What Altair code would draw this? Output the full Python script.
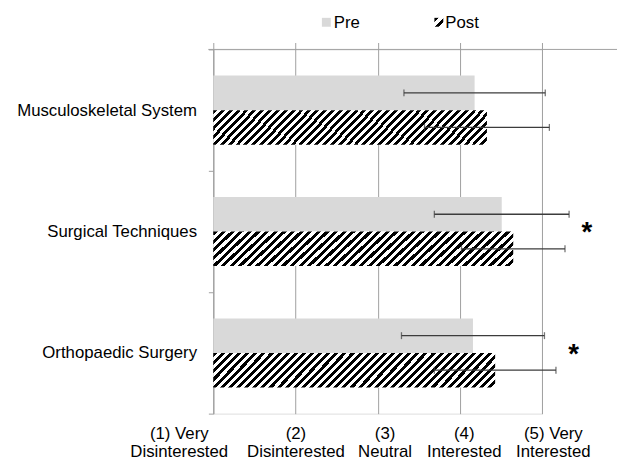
import altair as alt
import pandas as pd

# ---------------- data ----------------
categories = ["Musculoskeletal System", "Surgical Techniques", "Orthopaedic Surgery"]
groups = ["Pre", "Post"]
pre_mean = [4.18, 4.51, 4.16]
pre_sd = [0.86, 0.82, 0.87]
post_mean = [4.33, 4.65, 4.43]
post_sd = [0.76, 0.63, 0.74]
significant = [False, True, True]
tick_values = [1, 2, 3, 4, 5]
tick_line1 = ["(1) Very", "(2)", "(3)", "(4)", "(5) Very"]
tick_line2 = ["Disinterested", "Disinterested", "Neutral", "Interested", "Interested"]

rows = []
for i, c in enumerate(categories):
    rows.append(dict(category=c, group="Pre", mean=pre_mean[i], sd=pre_sd[i]))
    rows.append(dict(category=c, group="Post", mean=post_mean[i], sd=post_sd[i]))
df = pd.DataFrame(rows)
df["lo"] = df["mean"] - df["sd"]
df["hi"] = df["mean"] + df["sd"]

sig = pd.DataFrame({
    "category": categories,
    "sig": significant,
    "x": [max(pre_mean[i] + pre_sd[i], post_mean[i] + post_sd[i]) for i in range(len(categories))],
})
sig = sig[sig["sig"]].copy()

ticks_df = pd.DataFrame({"value": tick_values})
dummy = pd.DataFrame({"a": [0]})

# ---------------- style ----------------
W, H = 333, 369
FONT = "Liberation Sans"
GRID = "#a0a0a0"
ERR = "#3c3c3c"
PRE_COLOR = "#d9d9d9"
label_offsets = [-35, 0, 7, 4, 11]


def hatch(n, x2, y2, frac=0.5):
    stops = []
    for i in range(n):
        a = i / n
        b = (i + frac) / n
        c = (i + 1) / n
        stops += [
            {"offset": a, "color": "black"},
            {"offset": b, "color": "black"},
            {"offset": b, "color": "white"},
            {"offset": c, "color": "white"},
        ]
    return {"gradient": "linear", "x1": 0, "y1": 0, "x2": x2, "y2": y2, "stops": stops}


bar_hatch = hatch(39, 1.105, 0.133)
legend_hatch = hatch(2, 1, 1)

xscale = alt.Scale(domain=[1, 5], nice=False, zero=False)
yscale = alt.Scale(domain=categories, paddingInner=0, paddingOuter=0)
yoff = alt.Scale(domain=groups, paddingInner=0, paddingOuter=0.757)

label_expr = ""
for v, l1, l2 in zip(tick_values, tick_line1, tick_line2):
    label_expr += f"datum.value == {v} ? ['{l1}', '{l2}'] : "
label_expr += "''"

offset_cond = {
    "condition": [{"test": f"datum.value == {v}", "value": o} for v, o in zip(tick_values, label_offsets)],
    "value": 0,
}

top_axis = alt.Axis(orient="top", labels=False, title=None, domain=False, ticks=True,
                    tickSize=7, tickColor=GRID, tickWidth=1, grid=True, gridColor=GRID,
                    gridWidth=1, values=tick_values)
y_axis = alt.Axis(title=None, domain=True, domainColor=GRID, domainWidth=1, ticks=True,
                  tickBand="extent", tickSize=5, tickColor=GRID, labelFont=FONT,
                  labelFontSize=17, labelColor="black", labelPadding=12, labelLimit=300,
                  grid=False)
bottom_axis = alt.Axis(orient="bottom", domain=False, ticks=False, grid=False, title=None,
                       labelExpr=label_expr, labelFont=FONT, labelFontSize=17,
                       labelColor="black", labelLineHeight=18, labelPadding=12,
                       values=tick_values, labelOverlap=False, labelFlush=False,
                       labelBaseline="top", labelAlign="center", labelOffset=offset_cond)

Y = alt.Y("category:N", scale=yscale, sort=categories, axis=y_axis)
YO = alt.YOffset("group:N", scale=yoff, sort=groups)

pre_bars = alt.Chart(df).transform_filter("datum.group == 'Pre'").mark_bar(
    fill=PRE_COLOR
).encode(
    x=alt.X("mean:Q", scale=xscale, axis=top_axis),
    x2=alt.datum(1),
    y=Y,
    yOffset=YO,
)

post_bars = alt.Chart(df).transform_filter("datum.group == 'Post'").mark_bar(
    fill=bar_hatch
).encode(
    x=alt.X("mean:Q", scale=xscale, axis=None),
    x2=alt.datum(1),
    y=Y,
    yOffset=YO,
)

err_rule = alt.Chart(df).mark_rule(color=ERR, strokeWidth=1.3).encode(
    x=alt.X("lo:Q", scale=xscale, axis=None),
    x2="hi:Q",
    y=Y,
    yOffset=YO,
)
cap_lo = alt.Chart(df).mark_tick(color=ERR, thickness=1.3, size=7).encode(
    x=alt.X("lo:Q", scale=xscale, axis=None), y=Y, yOffset=YO)
cap_hi = alt.Chart(df).mark_tick(color=ERR, thickness=1.3, size=7).encode(
    x=alt.X("hi:Q", scale=xscale, axis=None), y=Y, yOffset=YO)

stars = alt.Chart(sig).mark_text(text="*", font=FONT, fontSize=28, fontWeight="bold",
                                 dx=18, dy=2, align="center", baseline="middle",
                                 color="black").encode(
    x=alt.X("x:Q", scale=xscale, axis=None),
    y=Y,
)

top_line = alt.Chart(dummy).mark_rule(color=GRID, strokeWidth=1).encode(
    x=alt.value(-5), x2=alt.value(412), y=alt.value(0))

bottom_labels = alt.Chart(ticks_df).mark_point(opacity=0).encode(
    x=alt.X("value:Q", scale=xscale, axis=bottom_axis),
    y=alt.value(0),
)

leg_pre = alt.Chart(dummy).mark_rect(fill=PRE_COLOR).encode(
    x=alt.value(110), x2=alt.value(119), y=alt.value(-32), y2=alt.value(-23))
leg_post = alt.Chart(dummy).mark_rect(fill=legend_hatch).encode(
    x=alt.value(224), x2=alt.value(233), y=alt.value(-32), y2=alt.value(-23))
leg_pre_t = alt.Chart(dummy).mark_text(text="Pre", font=FONT, fontSize=17, align="left",
                                       baseline="middle", color="black").encode(
    x=alt.value(122), y=alt.value(-27))
leg_post_t = alt.Chart(dummy).mark_text(text="Post", font=FONT, fontSize=17, align="left",
                                        baseline="middle", color="black").encode(
    x=alt.value(235), y=alt.value(-27))

chart = alt.layer(
    pre_bars, post_bars, err_rule, cap_lo, cap_hi, stars, top_line, bottom_labels,
    leg_pre, leg_post, leg_pre_t, leg_post_t,
).resolve_axis(x="independent").properties(
    width=W, height=H,
    autosize=alt.AutoSizeParams(type="none"),
    padding={"left": 208, "top": 39, "right": 76, "bottom": 45},
    background="white",
).configure_view(stroke=None).configure(font=FONT)

chart.save("out.html", embed_options={"renderer": "svg", "actions": False})
